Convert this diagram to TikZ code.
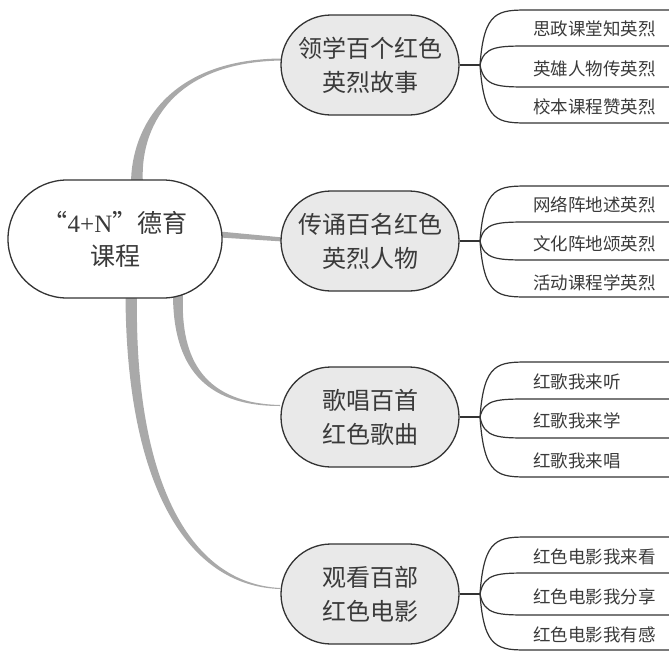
\documentclass[tikz,border=0pt]{standalone}
\usepackage{fontspec}
\setmainfont{Liberation Serif}
\newfontfamily\cjk{Noto Sans CJK SC}
\usetikzlibrary{shapes.misc,backgrounds}
\definecolor{ink}{HTML}{333333}
\definecolor{txt}{HTML}{3A3A3A}
\definecolor{band}{HTML}{A9A9A9}
\definecolor{bfill}{HTML}{E9E9E9}
\begin{document}
\begin{tikzpicture}[x=1pt,y=-1pt,
 rootbox/.style={rounded rectangle, draw=ink, line width=1.3pt, fill=white, minimum width=214pt, minimum height=118pt, inner sep=0pt, align=center, text=txt, font=\cjk\fontsize{25}{33}\selectfont},
 branchbox/.style={rounded rectangle, draw=ink, line width=1.3pt, fill=bfill, minimum width=178pt, minimum height=100pt, inner sep=0pt, align=center, text=txt, font=\cjk\fontsize{24}{34}\selectfont},
 leaftext/.style={anchor=west, inner sep=0pt, text=txt, font=\cjk\fontsize{17.5}{20}\selectfont},
 leafline/.style={draw=ink, line width=1.2pt},
 bandfill/.style={fill=band, draw=none}]
\useasboundingbox (0,0) rectangle (669,651);

% nodes
\node[rootbox] (root) at (115,239) {“{\rmfamily 4+N}”德育\\课程};
\node[branchbox] (b1) at (370,65) {领学百个红色\\英烈故事};
\node[branchbox] (b2) at (370,241) {传诵百名红色\\英烈人物};
\node[branchbox] (b3) at (370,417) {歌唱百首\\红色歌曲};
\node[branchbox] (b4) at (370,594) {观看百部\\红色电影};

% tapered main connectors
\begin{pgfonlayer}{background}
\fill[bandfill] (131,184) .. controls (131,126) and (170,59) .. (282,58.5)
   -- (282,60.5) .. controls (172,62) and (139,128) .. (143,184) -- cycle;
\fill[bandfill] (220,231.5) -- (283,237.5) -- (283,241.5) -- (220,237.5) -- cycle;
\fill[bandfill] (173,294) .. controls (173,365) and (203,406) .. (280,406)
   -- (280,405) .. controls (206,403) and (180,362) .. (183,294) -- cycle;
\fill[bandfill] (125.5,294) .. controls (126,482) and (185,586) .. (280,589)
   -- (280,588) .. controls (188,583) and (134,478) .. (137,294) -- cycle;
\end{pgfonlayer}

% leaf connectors
\foreach \b/\fy/\ya/\yb/\yc/\yd in {1/65/10/46/87/123, 2/241/186/222/260/297, 3/417/362/399/438/477, 4/594/537/573/615/650}{
  \coordinate (f\b) at (480,\fy);
  \draw[leafline] (b\b.east) -- (f\b);
  \foreach \y [count=\i] in {\ya,\yb,\yc,\yd}{
    \coordinate (s\b\i) at (530,\y);
    \coordinate (e\b\i) at (669,\y);
    \draw[leafline] (f\b) .. controls (484,\y) and (498,\y) .. (s\b\i) -- (e\b\i);
  }
}

% leaf texts
\node[leaftext] (l11) at (533,29) {思政课堂知英烈};
\node[leaftext] (l12) at (533,68.5) {英雄人物传英烈};
\node[leaftext] (l13) at (533,107) {校本课程赞英烈};
\node[leaftext] (l21) at (533,205) {网络阵地述英烈};
\node[leaftext] (l22) at (533,243.5) {文化阵地颂英烈};
\node[leaftext] (l23) at (533,282.5) {活动课程学英烈};
\node[leaftext] (l31) at (533,382) {红歌我来听};
\node[leaftext] (l32) at (533,421) {红歌我来学};
\node[leaftext] (l33) at (533,460.5) {红歌我来唱};
\node[leaftext] (l41) at (533,557) {红色电影我来看};
\node[leaftext] (l42) at (533,596.5) {红色电影我分享};
\node[leaftext] (l43) at (533,634.5) {红色电影我有感};
\end{tikzpicture}
\end{document}
